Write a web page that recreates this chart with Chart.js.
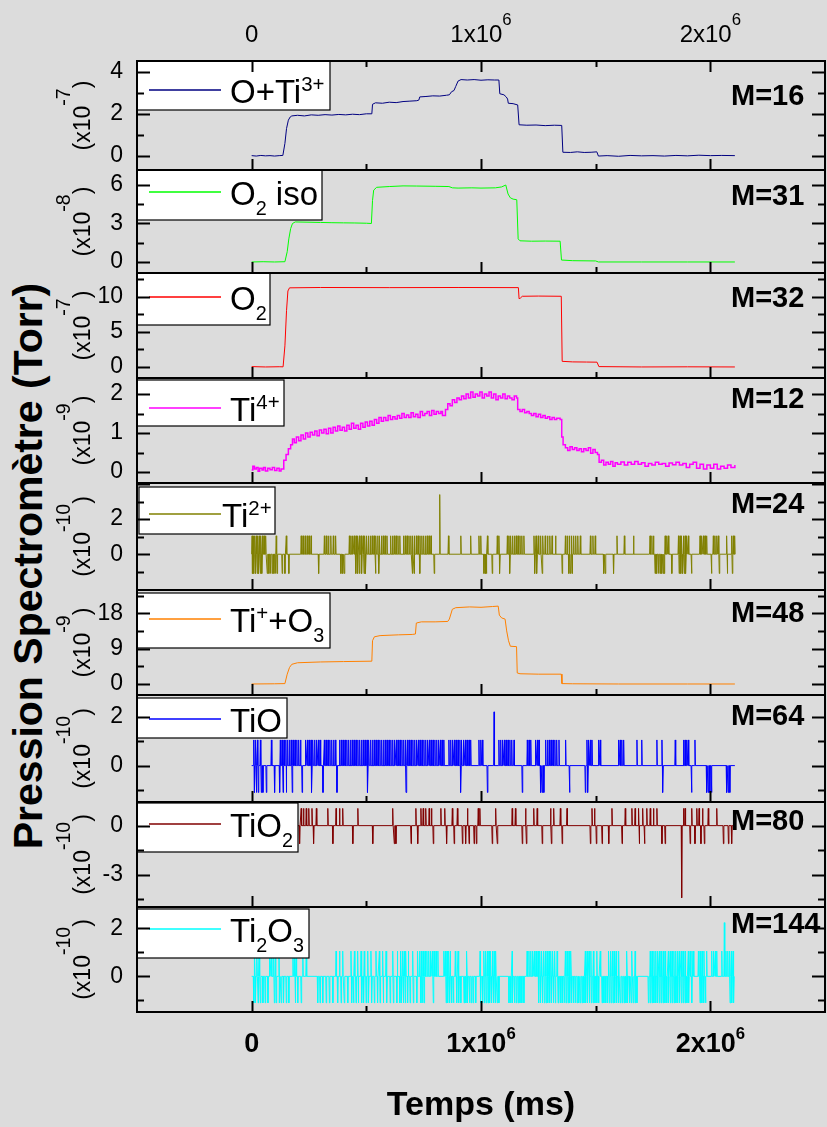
<!DOCTYPE html>
<html>
<head>
<meta charset="utf-8">
<script src="https://cdn.jsdelivr.net/npm/chart.js@4.4.1/dist/chart.umd.min.js"></script>
<style>
  body { margin: 0; background: #dcdcdc; width: 827px; height: 1127px; position: relative; overflow: hidden; }
  canvas { position: absolute; left: 0; }
  #ytitle {
    position: absolute; left: 28px; top: 566px; white-space: nowrap;
    font: bold 41px "Liberation Sans", Arial, sans-serif; line-height: 1;
    transform: translate(-50%, -50%) rotate(-90deg);
  }
</style>
</head>
<body>
<div id="ytitle">Pression Spectromètre (Torr)</div>
<script>
// times in 10^3 ms, values in units of each panel's exponent
const m16 = [[0,0.02],[20,0.0],[40,0.03],[60,0.01],[80,0.02],[100,0.0],[120,0.02],[136,0.03],[145,0.6],[152,1.3],[160,1.7],[168,1.85],[175,1.9],[200,1.93],[230,1.9],[260,1.95],[290,1.93],[320,1.96],[350,1.94],[380,1.97],[410,1.95],[440,1.98],[470,1.96],[500,2.0],[524,2.0],[527,2.45],[540,2.52],[570,2.5],[600,2.55],[630,2.53],[660,2.58],[690,2.6],[720,2.62],[729,2.65],[733,2.8],[760,2.82],[790,2.85],[820,2.84],[850,2.88],[862,2.9],[872,3.05],[882,3.1],[890,3.3],[900,3.55],[913,3.62],[940,3.6],[970,3.62],[1000,3.59],[1030,3.61],[1060,3.6],[1078,3.6],[1082,2.95],[1100,2.9],[1110,2.8],[1116,2.7],[1119,2.5],[1140,2.48],[1160,2.42],[1166,1.48],[1200,1.46],[1240,1.47],[1280,1.44],[1320,1.46],[1352,1.45],[1357,0.18],[1390,0.17],[1420,0.2],[1450,0.17],[1480,0.18],[1505,0.2],[1512,0.0],[1550,0.02],[1600,-0.01],[1650,0.03],[1700,0.01],[1750,0.02],[1800,0.0],[1850,0.03],[1900,0.01],[1950,0.04],[2000,0.02],[2050,0.03],[2107,0.02]];

const m31 = [[0,0],[50,0.02],[100,0],[145,0.02],[155,0.8],[162,1.8],[170,2.6],[178,3.0],[190,3.12],[250,3.1],[300,3.08],[350,3.06],[400,3.05],[450,3.04],[500,3.02],[522,3.0],[527,4.8],[532,5.6],[545,5.82],[600,5.88],[660,5.93],[720,5.92],[800,5.9],[860,5.88],[875,5.78],[900,5.76],[960,5.78],[1000,5.76],[1063,5.78],[1090,5.85],[1108,6.0],[1118,5.3],[1128,5.0],[1140,4.9],[1156,4.85],[1162,1.8],[1170,1.65],[1220,1.62],[1280,1.63],[1345,1.62],[1351,0.15],[1400,0.1],[1500,0.08],[1512,0.0],[1700,0.0],[1900,0.0],[2107,0.0]];

const m32 = [[0,0.05],[60,0.0],[120,0.03],[137,0.02],[145,3.0],[152,8.0],[158,10.8],[165,11.25],[300,11.3],[600,11.28],[900,11.3],[1163,11.28],[1166,9.7],[1172,9.8],[1180,10.05],[1250,10.08],[1350,10.05],[1354,0.8],[1400,0.72],[1460,0.7],[1506,0.68],[1514,0.05],[1700,0.0],[1900,0.02],[2107,0.0]];

const m12 = [[0,0.05],[5,0.15],[12,0.08],[20,0.12],[28,0.02],[35,0.1],[45,0.05],[52,0.12],[60,0.03],[70,0.1],[80,0.06],[90,0.12],[100,0.04],[110,0.1],[120,0.03],[128,0.08],[140,0.3],[150,0.45],[160,0.6],[170,0.7],[178,0.85],[186,0.75],[195,0.9],[205,0.8],[215,0.95],[225,0.85],[235,1.0],[245,0.9],[255,1.02],[265,0.95],[275,1.05],[285,0.93],[295,1.08],[305,1.0],[315,1.1],[325,0.98],[335,1.12],[345,1.0],[355,1.15],[365,1.05],[375,1.18],[385,1.07],[395,1.15],[405,1.05],[415,1.2],[425,1.1],[435,1.25],[445,1.12],[455,1.2],[465,1.1],[475,1.25],[485,1.15],[495,1.28],[505,1.18],[515,1.3],[525,1.2],[535,1.35],[545,1.25],[555,1.4],[565,1.3],[575,1.4],[585,1.32],[595,1.45],[605,1.35],[615,1.42],[625,1.36],[635,1.45],[645,1.38],[655,1.5],[665,1.4],[675,1.46],[685,1.4],[695,1.52],[705,1.42],[715,1.48],[725,1.4],[735,1.55],[745,1.45],[755,1.5],[765,1.55],[775,1.45],[785,1.58],[795,1.48],[805,1.55],[815,1.5],[825,1.55],[832,1.45],[845,1.6],[855,1.75],[865,1.7],[875,1.85],[885,1.78],[895,1.9],[905,1.85],[915,1.95],[925,1.88],[935,2.0],[945,1.9],[955,2.05],[965,1.92],[975,2.0],[985,1.95],[995,2.05],[1005,1.9],[1015,2.0],[1025,1.95],[1035,2.05],[1045,1.9],[1055,2.0],[1065,1.85],[1075,1.95],[1085,1.9],[1095,2.0],[1105,1.88],[1115,1.95],[1125,1.9],[1135,1.85],[1145,1.95],[1155,1.9],[1160,1.6],[1170,1.55],[1180,1.6],[1190,1.52],[1200,1.55],[1210,1.5],[1220,1.45],[1230,1.5],[1240,1.42],[1250,1.48],[1260,1.4],[1270,1.45],[1280,1.38],[1290,1.42],[1300,1.35],[1310,1.4],[1320,1.35],[1330,1.38],[1345,1.35],[1352,0.9],[1358,0.7],[1368,0.62],[1378,0.55],[1388,0.65],[1398,0.58],[1408,0.62],[1418,0.55],[1428,0.6],[1438,0.52],[1448,0.6],[1458,0.55],[1468,0.62],[1478,0.48],[1488,0.58],[1498,0.5],[1508,0.45],[1515,0.25],[1525,0.3],[1535,0.18],[1545,0.25],[1555,0.2],[1565,0.27],[1575,0.15],[1585,0.24],[1595,0.2],[1610,0.26],[1625,0.18],[1640,0.25],[1655,0.2],[1670,0.27],[1685,0.2],[1700,0.24],[1715,0.15],[1730,0.22],[1745,0.18],[1760,0.25],[1775,0.2],[1790,0.22],[1805,0.15],[1820,0.23],[1835,0.19],[1850,0.25],[1865,0.18],[1880,0.22],[1895,0.12],[1910,0.2],[1925,0.25],[1940,0.1],[1955,0.2],[1970,0.08],[1985,0.18],[2000,0.1],[2015,0.2],[2030,0.08],[2045,0.15],[2060,0.1],[2075,0.18],[2090,0.12],[2107,0.18]];

const m48 = [[0,0],[100,0.05],[145,0.1],[155,2.5],[165,4.2],[175,5.0],[200,5.4],[300,5.6],[400,5.7],[524,5.8],[527,11.0],[535,12.0],[560,12.3],[640,12.5],[700,12.6],[714,12.7],[718,15.5],[740,15.8],[800,15.8],[855,15.9],[862,16.5],[875,19.0],[890,19.4],[950,19.6],[1000,19.5],[1050,19.7],[1075,19.8],[1080,17.5],[1090,16.8],[1105,16.5],[1112,13.5],[1120,11.0],[1128,9.6],[1155,9.5],[1158,2.8],[1170,2.6],[1250,2.5],[1350,2.5],[1353,0.1],[1400,0.05],[1600,0.0],[1900,0.0],[2107,0.0]];

// single-count spikes: times of upward and downward excursions, plus the odd large one
const spikeLevels = [1.05, -1.1];

const m24Up = [2,8,14,20,27,33,40,47,54,61,107,151,216,224,233,242,250,259,317,326,335,345,356,366,426,433,440,447,455,462,470,478,486,494,502,510,518,526,534,542,550,558,566,574,582,590,606,614,622,630,638,646,662,670,678,686,694,702,710,718,726,734,742,750,758,766,774,782,858,912,955,991,999,1028,1071,1078,1115,1122,1130,1138,1146,1154,1162,1170,1178,1187,1231,1240,1250,1260,1270,1280,1290,1300,1310,1325,1368,1377,1386,1395,1404,1413,1422,1433,1477,1488,1498,1593,1625,1665,1737,1745,1752,1803,1810,1817,1861,1868,1875,1883,1890,1897,1904,1955,1962,1970,1977,1984,2013,2020,2028,2035,2071,2093,2100,2106];
const m24Down = [4,10,17,24,31,38,45,68,75,82,90,97,104,111,133,145,162,292,389,397,404,454,462,470,480,490,497,540,555,701,708,733,796,1013,1020,1024,1049,1082,1126,1235,1244,1267,1354,1383,1390,1397,1535,1542,1578,1759,1766,1774,1781,1788,1795,1799,1832,1864,1872,1879,1886,1893,1918,2005,2039,2075,2096];
const m24Big = [[820, 3.4]];

const m64Up = [9,17,25,38,86,125,133,141,149,157,165,173,181,189,197,205,213,235,243,251,259,267,275,283,291,299,317,325,333,341,349,357,365,383,391,399,407,415,423,431,439,447,455,463,471,479,487,495,503,511,519,527,535,543,551,559,567,575,583,591,599,607,615,623,631,639,647,655,663,671,679,687,695,703,711,719,727,735,743,751,759,767,775,783,791,799,807,815,823,831,838,860,868,876,884,892,900,908,916,924,932,940,948,955,991,999,1006,1078,1086,1094,1102,1110,1118,1126,1134,1144,1202,1210,1217,1238,1246,1253,1282,1290,1298,1306,1314,1322,1330,1340,1369,1462,1470,1477,1484,1513,1520,1600,1607,1614,1622,1680,1701,1767,1789,1847,1883,1890,1897,1904,1933];
const m64Down = [13,21,29,42,49,64,100,122,137,152,177,220,262,311,372,506,673,912,1028,1180,1260,1267,1274,1386,1455,1466,1793,1918,1984,1991,1998,2005,2071,2078,2085];
const m64Big = [[1057, 2.2]];

const m80Up = [216,226,238,249,263,282,332,368,383,397,463,615,716,738,748,759,774,784,825,842,875,897,941,988,995,1064,1136,1150,1194,1230,1245,1303,1317,1346,1375,1484,1495,1571,1629,1658,1672,1687,1705,1723,1738,1752,1767,1883,1890,1919,1941,1951,1966,1991,2028];
const m80Down = [209,270,354,441,528,622,629,695,724,792,850,883,919,933,948,970,980,1049,1071,1180,1198,1267,1307,1354,1477,1503,1528,1557,1615,1691,1713,1789,1803,1912,1933,1959,1974,2057,2079,2093];
const m80Big = [[1875, -4.4]];

const m144Up = [13,23,32,78,86,96,104,119,180,187,194,223,238,368,383,397,433,448,462,477,491,506,520,542,557,571,586,615,636,650,658,665,672,684,702,724,732,740,748,756,764,772,780,788,796,804,812,838,845,852,860,867,888,900,938,996,1013,1020,1028,1035,1042,1050,1057,1064,1136,1201,1209,1217,1225,1233,1241,1249,1257,1265,1273,1281,1289,1297,1305,1313,1321,1332,1368,1376,1384,1392,1455,1463,1471,1479,1490,1505,1520,1557,1565,1573,1581,1590,1600,1636,1658,1672,1738,1746,1754,1762,1770,1778,1786,1795,1803,1817,1825,1833,1841,1849,1857,1865,1873,1881,1890,1904,1912,1920,1926,1948,1956,1964,1972,1984,2006,2014,2022,2028,2050,2068,2076,2084,2092,2100];
const m144Down = [9,17,28,38,49,59,71,99,107,122,129,139,151,162,191,201,216,288,298,310,325,339,354,375,390,404,419,437,444,455,466,481,488,499,510,524,535,549,560,575,590,604,618,633,646,654,662,670,680,691,705,720,738,745,752,792,848,856,864,872,880,894,904,912,926,934,942,950,958,966,977,999,1007,1015,1023,1031,1039,1047,1055,1063,1071,1078,1122,1130,1138,1146,1154,1162,1170,1178,1187,1252,1260,1268,1276,1284,1292,1300,1308,1316,1324,1336,1340,1348,1356,1364,1372,1380,1388,1396,1404,1412,1420,1426,1433,1441,1449,1457,1465,1473,1481,1489,1497,1505,1513,1528,1536,1544,1552,1560,1568,1576,1584,1592,1600,1608,1616,1624,1632,1640,1648,1656,1664,1672,1680,1730,1738,1746,1754,1762,1770,1778,1786,1794,1802,1810,1818,1826,1834,1842,1850,1858,1866,1874,1882,1890,1898,1906,1919,1955,1963,1971,1979,2086,2094,2102];
const m144Big = [[2061, 2.23]];

const xTickValues = [0, 1e6, 2e6];
const xTickLabels = ['0', '1x10', '2x10'];
const END_TIME = 2107;

const FONT = '"Liberation Sans", Arial, sans-serif';
const X_MIN = -0.5e6, X_MAX = 2.5e6;

const toPoints = pairs => pairs.map(([t, v]) => ({ x: t * 1e3, y: v }));

function spikePoints(up, down, big) {
  const marks = up.map(t => [t, spikeLevels[0]])
    .concat(down.map(t => [t, spikeLevels[1]]), big)
    .sort((a, b) => a[0] - b[0]);
  const pts = [{ x: 0, y: 0 }];
  marks.forEach(([t, v]) => {
    pts.push({ x: (t - 2) * 1e3, y: 0 }, { x: t * 1e3, y: v }, { x: (t + 2) * 1e3, y: 0 });
  });
  pts.push({ x: END_TIME * 1e3, y: 0 });
  return pts;
}

// panel layout: plot box edges on the page, axis ranges, legend box geometry
const panels = [
  { top: 61, bottom: 170, color: '#000080', points: toPoints(m16), yMin: -0.66, yMax: 4.5, major: 2, minor: 1, labels: [0, 2, 4], exp: '-7', mass: 'M=16', massY: 44,
    legend: { x: 137, dy: 0, w: 193, h: 49, ly: 29, tx: 230, text: [['O+Ti', 0], ['3+', 1]] } },
  { top: 170, bottom: 273, color: '#00ff00', points: toPoints(m31), yMin: -0.86, yMax: 7.17, major: 3, minor: 1.5, labels: [0, 3, 6], exp: '-8', mass: 'M=31', massY: 35,
    legend: { x: 137, dy: 0, w: 185, h: 50, ly: 22, tx: 230, text: [['O', 0], ['2', -1], [' iso', 0]] } },
  { top: 273, bottom: 378, color: '#ff0000', points: toPoints(m32), yMin: -1.57, yMax: 13.36, major: 5, minor: 2.5, labels: [0, 5, 10], exp: '-7', mass: 'M=32', massY: 34,
    legend: { x: 137, dy: 0, w: 133, h: 52, ly: 24, tx: 230, text: [['O', 0], ['2', -1]] } },
  { top: 378, bottom: 483, color: '#ff00ff', width: 1.5, stepped: true, points: toPoints(m12), yMin: -0.28, yMax: 2.41, major: 1, minor: 0.5, labels: [0, 1, 2], exp: '-9', mass: 'M=12', massY: 30,
    legend: { x: 137, dy: 2, w: 147, h: 46, ly: 30, tx: 230, text: [['Ti', 0], ['4+', 1]] } },
  { top: 483, bottom: 590, color: '#808000', points: spikePoints(m24Up, m24Down, m24Big), yMin: -2.04, yMax: 4.06, major: 2, minor: 1, labels: [0, 2], exp: '-10', mass: 'M=24', massY: 30,
    legend: { x: 139, dy: 4, w: 136, h: 47, ly: 31, tx: 222, text: [['Ti', 0], ['2+', 1]] } },
  { top: 590, bottom: 695, color: '#ff8000', points: toPoints(m48), yMin: -2.8, yMax: 23.9, major: 9, minor: 4.5, labels: [0, 9, 18], exp: '-9', mass: 'M=48', massY: 32,
    legend: { x: 137, dy: 3, w: 193, h: 55, ly: 29, tx: 230, text: [['Ti', 0], ['+', 1], ['+O', 0], ['3', -1]] } },
  { top: 695, bottom: 802, color: '#0000ff', points: spikePoints(m64Up, m64Down, m64Big), yMin: -1.49, yMax: 2.89, major: 2, minor: 1, labels: [0, 2], exp: '-10', mass: 'M=64', massY: 30,
    legend: { x: 137, dy: 3, w: 150, h: 40, ly: 24, tx: 230, text: [['TiO', 0]] } },
  { top: 802, bottom: 907, color: '#800000', points: spikePoints(m80Up, m80Down, m80Big), yMin: -4.96, yMax: 1.44, major: 3, minor: 1.5, labels: [-3, 0], exp: '-10', mass: 'M=80', massY: 28,
    legend: { x: 137, dy: 1, w: 161, h: 49, ly: 22, tx: 230, text: [['TiO', 0], ['2', -1]] } },
  { top: 907, bottom: 1012, color: '#00ffff', points: spikePoints(m144Up, m144Down, m144Big), yMin: -1.48, yMax: 2.88, major: 2, minor: 1, labels: [0, 2], exp: '-10', mass: 'M=144', massY: 26,
    legend: { x: 137, dy: 2, w: 172, h: 49, ly: 22, tx: 230, text: [['Ti', 0], ['2', -1], ['O', 0], ['3', -1]] } }
];

// text with superscript (1) / subscript (-1) runs
function runFont(st, shift) {
  const size = shift > 0 ? st.size * st.supScale : shift < 0 ? st.size * st.subScale : st.size;
  return `${st.weight} ${size}px ${FONT}`;
}
function richWidth(ctx, parts, st) {
  return parts.reduce((w, [t, s]) => { ctx.font = runFont(st, s); return w + ctx.measureText(t).width; }, 0);
}
function richDraw(ctx, parts, x, y, st) {
  parts.forEach(([t, s]) => {
    ctx.font = runFont(st, s);
    const dy = s > 0 ? -st.supRise : s < 0 ? st.subDrop : 0;
    ctx.fillText(t, x, y + dy);
    x += ctx.measureText(t).width;
  });
}

const legendStyle = { size: 33, weight: 'normal', supScale: 0.62, supRise: 12, subScale: 0.6, subDrop: 10 };
const unitStyle = { size: 23, weight: 'normal', supScale: 0.85, supRise: 20, subScale: 0.6, subDrop: 8 };
const topTickStyle = { size: 24, weight: 'normal', supScale: 0.7, supRise: 17, subScale: 0.6, subDrop: 8 };
const bottomTickStyle = { size: 27, weight: 'bold', supScale: 0.62, supRise: 13, subScale: 0.6, subDrop: 8 };

function line(ctx, x1, y1, x2, y2) {
  ctx.beginPath(); ctx.moveTo(x1, y1); ctx.lineTo(x2, y2); ctx.stroke();
}

function decor(p, first, last) {
  return {
    id: 'decor',
    afterDatasetsDraw(chart) {
      const { ctx, chartArea: a, scales: { x, y } } = chart;
      ctx.save();
      ctx.textAlign = 'left';
      ctx.textBaseline = 'alphabetic';

      // legend box
      const L = p.legend;
      ctx.fillStyle = '#fff';
      ctx.fillRect(L.x, a.top + L.dy, L.w, L.h);
      ctx.strokeStyle = '#000';
      ctx.lineWidth = 1.2;
      ctx.strokeRect(L.x, a.top + L.dy, L.w, L.h);
      ctx.strokeStyle = p.color;
      ctx.lineWidth = 1.5;
      line(ctx, 149, a.top + L.ly, 221, a.top + L.ly);
      ctx.fillStyle = '#000';
      richDraw(ctx, L.text, L.tx, a.top + L.ly + 13, legendStyle);

      // mass label
      ctx.font = `bold 29px ${FONT}`;
      ctx.fillText(p.mass, 731, a.top + p.massY);

      // frame
      ctx.strokeStyle = '#000';
      ctx.lineWidth = 2;
      ctx.strokeRect(a.left, a.top, a.right - a.left, a.bottom - a.top);

      // inward x ticks
      for (let v = X_MIN + 5e5; v < X_MAX; v += 5e5) {
        const px = Math.round(x.getPixelForValue(v)) + 0.5;
        const len = Math.abs(v % 1e6) < 1 ? 11 : 6;
        line(ctx, px, a.bottom, px, a.bottom - len);
        if (first) line(ctx, px, a.top, px, a.top + len);
      }
      // inward y ticks, both sides
      y.ticks.forEach(t => {
        const py = Math.round(y.getPixelForValue(t.value)) + 0.5;
        if (py <= a.top + 1 || py >= a.bottom - 1) return;
        const r = t.value / p.major;
        const len = Math.abs(r - Math.round(r)) < 1e-6 ? 13 : 7;
        line(ctx, a.left, py, a.left + len, py);
        line(ctx, a.right, py, a.right - len, py);
      });

      // exponent label beside the axis
      ctx.save();
      ctx.translate(90, (a.top + a.bottom) / 2);
      ctx.rotate(-Math.PI / 2);
      const unit = [['(x10', 0], [p.exp, 1], [')', 0]];
      richDraw(ctx, unit, -richWidth(ctx, unit, unitStyle) / 2, 0, unitStyle);
      ctx.restore();

      // shared time axis labels
      if (first || last) {
        const st = first ? topTickStyle : bottomTickStyle;
        const base = first ? a.top - 19 : a.bottom + 40;
        x.ticks.forEach((t, i) => {
          const parts = t.value === 0 ? [[xTickLabels[i], 0]] : [[xTickLabels[i], 0], ['6', 1]];
          const px = x.getPixelForValue(t.value);
          richDraw(ctx, parts, px - richWidth(ctx, parts, st) / 2, base, st);
        });
      }
      if (last) {
        ctx.font = `bold 34px ${FONT}`;
        ctx.textAlign = 'center';
        ctx.fillText('Temps (ms)', (a.left + a.right) / 2, a.bottom + 103);
      }
      ctx.restore();
    }
  };
}

panels.forEach((p, i) => {
  const first = i === 0, last = i === panels.length - 1;
  const cTop = first ? 0 : p.top - 6;
  const cBottom = last ? 1127 : p.bottom + 6;
  const cv = document.createElement('canvas');
  cv.width = 827;
  cv.height = cBottom - cTop;
  cv.style.top = cTop + 'px';
  document.body.appendChild(cv);

  new Chart(cv, {
    type: 'line',
    data: {
      datasets: [{
        data: p.points,
        borderColor: p.color,
        borderWidth: p.width || 1,
        stepped: p.stepped || false,
        pointRadius: 0,
        tension: 0,
        fill: false
      }]
    },
    options: {
      responsive: false,
      animation: false,
      events: [],
      layout: { padding: { left: 0, right: 2, top: p.top - cTop, bottom: cBottom - p.bottom } },
      plugins: { legend: { display: false }, tooltip: { enabled: false } },
      scales: {
        x: {
          type: 'linear', min: X_MIN, max: X_MAX, display: false,
          afterBuildTicks: s => { s.ticks = xTickValues.map(v => ({ value: v })); }
        },
        y: {
          type: 'linear', min: p.yMin, max: p.yMax, position: 'left',
          afterFit: s => { s.width = 137; s.paddingTop = 0; s.paddingBottom = 0; },
          grid: { display: false, drawTicks: false },
          border: { display: false },
          ticks: {
            stepSize: p.minor, includeBounds: false, autoSkip: false, padding: 14,
            color: '#000', font: { family: FONT, size: 23 },
            callback: v => p.labels.some(l => Math.abs(l - v) < 1e-6) ? String(Math.round(v)) : ''
          }
        }
      }
    },
    plugins: [decor(p, first, last)]
  });
});
</script>
</body>
</html>
